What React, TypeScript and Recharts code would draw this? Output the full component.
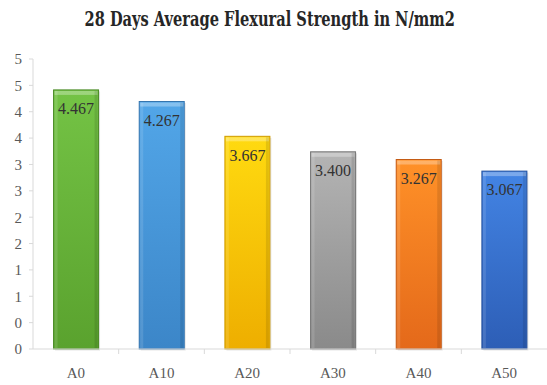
import React from "react";
import { Bar, BarChart, Cell, LabelList, XAxis, YAxis } from "recharts";

// Mix names and 28-day flexural strength (N/mm2)
const mixes = ["A0", "A10", "A20", "A30", "A40", "A50"];
const strength = [4.467, 4.267, 3.667, 3.4, 3.267, 3.067];

// Bar colours: [top, bottom, edge]
const barTop = ["#74c345", "#52a6e8", "#ffda10", "#b4b4b4", "#ff9128", "#4384e4"];
const barBottom = ["#5aa22e", "#3c86c8", "#eeae00", "#8a8a8a", "#e4691a", "#2d5eb6"];
const barEdge = ["#4a8a25", "#3474ae", "#cf9a00", "#777777", "#c45a14", "#24509c"];

// Y-axis: 11 equal steps over 0..5, labels rounded to whole numbers
const yTicks = [0, 0.4545, 0.9091, 1.3636, 1.8182, 2.2727, 2.7273, 3.1818, 3.6364, 4.0909, 4.5455, 5];

const data = mixes.map((name, i) => ({ name, value: strength[i] }));

const AXIS_GREY = "#d9d9d9";
const TEXT_GREY = "#595959";
const SERIF = "'Liberation Serif', 'Times New Roman', serif";

const BevelBar = (props: any) => {
  const { x, y, width, height, index } = props;
  if (!height || height <= 0) return null;
  return (
    <g>
      <rect x={x + 1.5} y={y + 1.5} width={width} height={height} fill="#000" opacity={0.1} />
      <rect x={x} y={y} width={width} height={height} fill={`url(#bar${index})`} stroke={barEdge[index]} strokeWidth={1} />
      <rect x={x + 1} y={y + 1} width={width - 2} height={4} fill="#fff" opacity={0.3} />
      <rect x={x + 1} y={y + 1} width={3} height={height - 2} fill="#fff" opacity={0.12} />
      <rect x={x + width - 4} y={y + 1} width={3} height={height - 2} fill="#000" opacity={0.1} />
    </g>
  );
};

const CategoryTick = (props: any) => {
  const { x, y, payload, index } = props;
  const half = payload?.offset ?? 0;
  return (
    <g>
      {index > 0 && <line x1={x - half} x2={x - half} y1={y} y2={y + 5} stroke={AXIS_GREY} />}
      <text x={x} y={y + 29} textAnchor="middle" fill={TEXT_GREY} fontFamily={SERIF} fontSize={15}>
        {payload.value}
      </text>
    </g>
  );
};

export default function App() {
  return (
    <div style={{ position: "absolute", left: 0, top: 0, width: 547, height: 385, background: "#fff" }}>
      <BarChart
        width={547}
        height={385}
        data={data}
        margin={{ top: 59, right: 0, bottom: 6, left: 0 }}
        barCategoryGap="24%"
      >
        <defs>
          {mixes.map((m, i) => (
            <linearGradient key={m} id={`bar${i}`} x1="0" y1="0" x2="0" y2="1">
              <stop offset="0%" stopColor={barTop[i]} />
              <stop offset="100%" stopColor={barBottom[i]} />
            </linearGradient>
          ))}
        </defs>
        <XAxis
          dataKey="name"
          axisLine={{ stroke: AXIS_GREY }}
          tickLine={false}
          tickSize={0}
          tickMargin={0}
          height={30}
          interval={0}
          tick={<CategoryTick />}
        />
        <YAxis
          width={33}
          domain={[0, 5]}
          ticks={yTicks}
          interval={0}
          tickFormatter={(v: number) => String(Math.round(v))}
          axisLine={{ stroke: AXIS_GREY }}
          tickLine={{ stroke: AXIS_GREY }}
          tickSize={4}
          tickMargin={7}
          tick={{ fill: TEXT_GREY, fontFamily: SERIF, fontSize: 15 }}
        />
        <Bar dataKey="value" isAnimationActive={false} shape={<BevelBar />}>
          {data.map((d) => (
            <Cell key={d.name} />
          ))}
          <LabelList
            dataKey="value"
            position="insideTop"
            offset={13}
            formatter={(v: any) => Number(v).toFixed(3)}
            fill="#333"
            fontFamily={SERIF}
            fontSize={16}
          />
        </Bar>
      </BarChart>
      <div
        style={{
          position: "absolute",
          left: 0,
          top: 7,
          width: 540,
          textAlign: "center",
          whiteSpace: "nowrap",
        }}
      >
        <span
          style={{
            display: "inline-block",
            transform: "scaleX(0.73)",
            fontFamily: "'DejaVu Serif', serif",
            fontWeight: "bold",
            fontSize: 20,
            color: "#262626",
          }}
        >
          28 Days Average Flexural Strength in N/mm2
        </span>
      </div>
    </div>
  );
}
